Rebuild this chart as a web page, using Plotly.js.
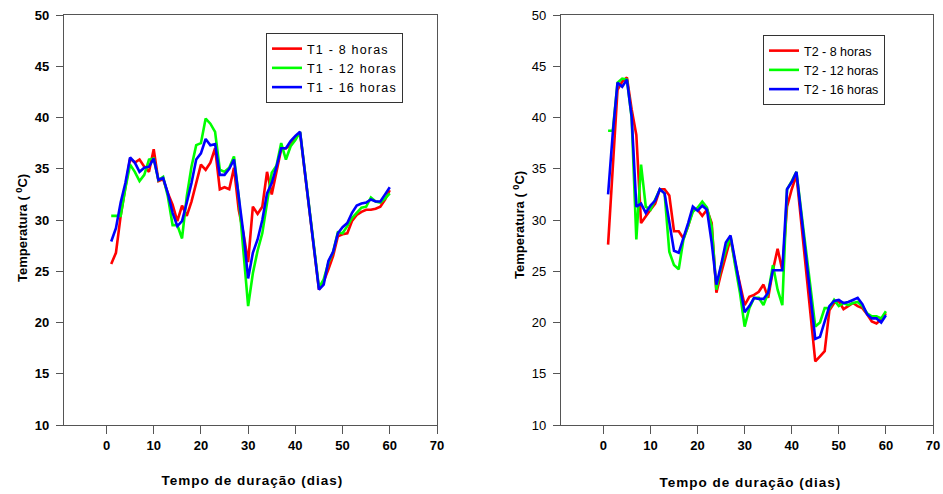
<!DOCTYPE html>
<html>
<head>
<meta charset="utf-8">
<script src="https://cdn.plot.ly/plotly-3.0.1.min.js"></script>
<style>
html,body{margin:0;padding:0;background:#fff;}
#chart{width:943px;height:494px;}
text.legendtext{letter-spacing:1.2px;}
</style>
</head>
<body>
<div id="chart"></div>
<script>
// Days (no readings on days 42-44)
const days = [1,2,3,4,5,6,7,8,9,10,11,12,13,14,15,16,17,18,19,20,21,22,23,24,25,26,27,28,29,30,31,32,33,34,35,36,37,38,39,40,41,45,46,47,48,49,50,51,52,53,54,55,56,57,58,59,60];

const t1_8h  = [25.7,26.8,30.4,33.3,36.0,35.6,35.9,35.2,34.7,36.9,33.8,34.0,32.6,31.5,29.9,31.4,30.4,31.8,33.6,35.4,34.9,35.6,37.0,33.0,33.2,33.0,35.1,31.0,28.7,25.9,31.3,30.6,31.3,34.7,32.5,34.6,36.9,37.0,37.3,38.0,38.5,23.2,24.0,25.2,26.5,28.4,28.6,28.7,29.9,30.5,30.8,31.0,31.0,31.1,31.3,32.0,32.9];
const t1_12h = [30.4,30.4,30.4,33.1,35.4,34.7,33.8,34.4,35.9,36.0,33.9,34.2,32.3,29.5,29.5,28.2,32.3,35.2,37.3,37.5,39.9,39.4,38.6,34.9,34.7,35.1,36.2,32.3,27.1,21.6,24.8,27.0,28.7,31.5,34.6,35.3,37.5,35.9,37.2,37.8,38.6,23.4,24.2,25.8,26.9,28.8,28.7,29.4,30.2,30.7,31.2,31.3,32.2,31.8,31.7,32.1,32.6];
const t1_16h = [27.9,29.2,31.7,33.6,36.1,35.6,34.7,35.1,35.2,36.0,33.9,34.1,32.6,30.7,29.4,29.9,31.7,33.6,35.9,36.5,37.9,37.3,37.4,34.4,34.4,35.0,35.9,32.3,28.7,24.3,26.8,28.1,30.0,32.6,33.6,35.2,37.0,37.0,37.7,38.2,38.6,23.2,23.7,26.0,26.9,28.7,29.3,29.7,30.7,31.4,31.6,31.7,32.0,31.8,31.8,32.5,33.2];

const t2_8h  = [27.6,35.0,42.7,43.5,43.9,40.8,38.3,29.7,30.4,31.0,31.6,33.0,33.0,32.4,28.9,28.9,28.2,29.4,31.0,31.0,30.4,31.0,29.7,22.9,24.8,26.4,28.2,25.8,23.9,21.7,22.5,22.7,23.0,23.7,22.4,25.1,27.2,25.1,31.3,33.0,34.4,16.2,16.7,17.2,21.2,21.9,22.1,21.3,21.6,21.9,21.6,21.4,20.8,20.1,19.9,20.3,20.9];
const t2_12h = [38.7,38.7,43.4,43.8,43.7,40.0,28.1,35.4,31.3,31.0,32.0,33.0,32.6,26.9,25.6,25.2,28.1,29.4,30.8,31.2,31.8,31.2,29.4,23.2,25.5,27.1,28.4,25.5,22.9,19.6,21.4,22.4,22.4,21.7,22.9,25.6,23.2,21.7,33.0,33.8,34.7,19.6,20.0,21.4,21.4,22.2,21.6,21.9,21.7,21.9,22.0,21.6,20.9,20.6,20.6,20.4,21.1];
const t2_16h = [32.5,38.5,43.4,43.0,43.7,40.1,31.3,31.6,30.7,31.4,31.9,33.0,32.6,30.0,27.0,26.8,28.2,29.7,31.3,30.9,31.4,31.0,27.8,23.7,25.6,27.8,28.5,25.8,23.5,21.0,21.6,22.4,22.3,22.3,22.9,25.1,25.1,25.1,33.0,33.7,34.7,18.4,18.6,20.0,21.6,22.1,22.2,21.9,22.0,22.2,22.4,21.8,20.8,20.4,20.4,20.0,20.7];

const names1 = ['T1 - 8 horas','T1 - 12 horas','T1 - 16 horas'];
const names2 = ['T2 - 8 horas','T2 - 12 horas','T2 - 16 horas'];
const colors = ['#ff0000','#00ff00','#0000ff'];
const xTicks = [0,10,20,30,40,50,60,70];
const yTicks = [10,15,20,25,30,35,40,45,50];
const xTitle = 'Tempo de duração (dias)';
const yTitle = 'Temperatura ( <sup>0</sup>C)';

const FONT = 'Liberation Sans, Arial, sans-serif';
const traces = [];
[t1_8h,t1_12h,t1_16h].forEach((s,i)=>traces.push({x:days,y:s,name:names1[i],type:'scatter',mode:'lines',
  line:{color:colors[i],width:2.6},xaxis:'x',yaxis:'y',legend:'legend'}));
[t2_8h,t2_12h,t2_16h].forEach((s,i)=>traces.push({x:days,y:s,name:names2[i],type:'scatter',mode:'lines',
  line:{color:colors[i],width:2.6},xaxis:'x2',yaxis:'y2',legend:'legend2'}));

function xa(domain, bold){
  return {domain:domain, range:[-9,70], tickvals:xTicks, ticks:'outside', ticklen:8, tickwidth:1, tickcolor:'#555',
    showline:true, mirror:true, linecolor:'#555', linewidth:1.2, showgrid:false, zeroline:false,
    tickfont:{family:FONT,size:13,color:'#000',weight:bold?'bold':'normal'}};
}
function ya(domain, anchor, bold){
  return {domain:domain, range:[10,50], tickvals:yTicks, ticks:'outside', ticklen:7, tickwidth:1, tickcolor:'#555',
    showline:true, mirror:true, linecolor:'#555', linewidth:1.2, showgrid:false, zeroline:false, anchor:anchor,
    ticklabelstandoff:4,
    tickfont:{family:FONT,size:13,color:'#000',weight:bold?'bold':'normal'}};
}
const ydom = [1-425/494, 1-15/494];
const legendBase = {xref:'paper',yref:'paper',xanchor:'left',yanchor:'top',bgcolor:'#fff',bordercolor:'#333',borderwidth:1,
  font:{family:FONT,size:12.5,color:'#000'},itemwidth:30,tracegroupgap:0};

const layout = {
  width:943, height:494, margin:{l:0,r:0,t:0,b:0}, paper_bgcolor:'#fff', plot_bgcolor:'#fff', showlegend:true,
  xaxis: Object.assign(xa([64/943,437/943],true),{anchor:'y'}),
  yaxis: ya(ydom,'x',true),
  xaxis2: Object.assign(xa([561/943,933/943],true),{anchor:'y2'}),
  yaxis2: ya(ydom,'x2',false),
  legend: Object.assign({},legendBase,{x:266/943,y:1-33/494}),
  legend2: Object.assign({},legendBase,{x:763/943,y:1-35/494}),
  annotations:[
    {text:xTitle,xref:'paper',yref:'paper',x:252/943,y:1-480/494,xanchor:'center',yanchor:'middle',showarrow:false,
     font:{family:FONT,size:13.5,color:'#000',weight:'bold'}},
    {text:xTitle,xref:'paper',yref:'paper',x:750/943,y:1-482/494,xanchor:'center',yanchor:'middle',showarrow:false,
     font:{family:FONT,size:13.5,color:'#000',weight:'bold'}},
    {text:yTitle,xref:'paper',yref:'paper',x:22/943,y:1-228/494,xanchor:'center',yanchor:'middle',textangle:-90,showarrow:false,
     font:{family:FONT,size:13,color:'#000',weight:'bold'}},
    {text:yTitle,xref:'paper',yref:'paper',x:519/943,y:1-225/494,xanchor:'center',yanchor:'middle',textangle:-90,showarrow:false,
     font:{family:FONT,size:13,color:'#000',weight:'bold'}}
  ]
};
Plotly.newPlot('chart',traces,layout,{staticPlot:true,displayModeBar:false}).then(()=>{
  // widen title letter spacing like the reference
  document.querySelectorAll('.annotation-text').forEach((t,i)=>{ if(i<2) t.style.letterSpacing='1px'; });
});
</script>
</body>
</html>
